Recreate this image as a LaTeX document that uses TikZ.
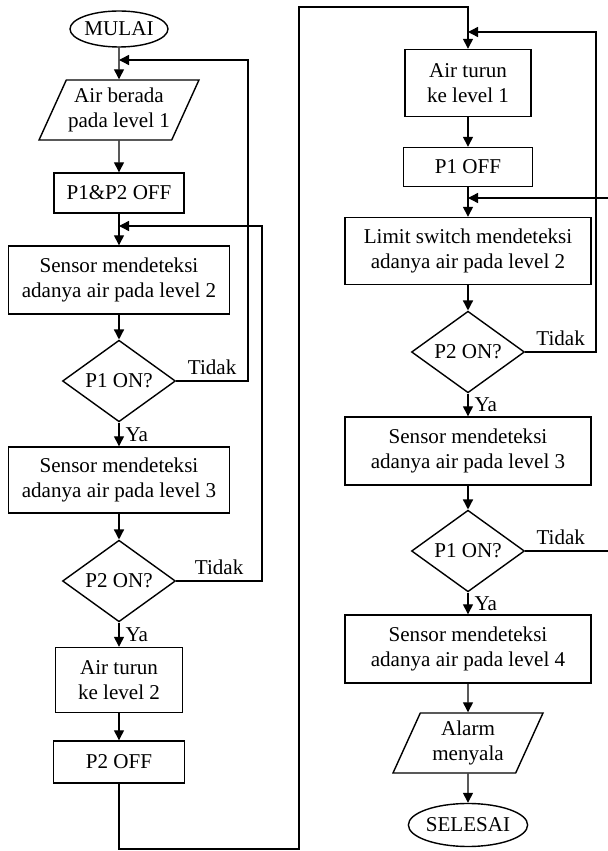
\documentclass[tikz,border=0pt]{standalone}
\usepackage{fontspec}
\setmainfont{Liberation Serif}
\usetikzlibrary{shapes.geometric, arrows.meta}

\begin{document}
\begin{tikzpicture}[
        txt/.style={font=\fontsize{12}{14}\selectfont},
        proc/.style={rectangle, draw, line width=0.8pt, align=center, inner sep=2pt, txt},
        io/.style={trapezium, trapezium left angle=60, trapezium right angle=120, trapezium stretches body, draw, line width=0.8pt, align=center, inner sep=1pt, minimum width=3cm, minimum height=1.2cm, txt},
        term/.style={ellipse, draw, line width=0.8pt, inner sep=0pt, txt},
        dec/.style={diamond, draw, line width=0.8pt, inner sep=0pt, minimum width=2.26cm, minimum height=1.5cm, txt},
        arr/.style={line width=0.8pt, -{Triangle[length=2mm, width=2mm]}}
    ]
        \useasboundingbox (0, 0) rectangle (12.16, 17.02);

        % Left column
        \node[term, minimum width=1.96cm, minimum height=0.72cm] (mulai) at (2.38, 16.44) {MULAI};
        \node[io] (air1) at (2.38, 14.82) {Air berada\\pada level 1};
        \node[proc, minimum width=2.6cm, minimum height=0.8cm] (off12) at (2.38, 13.16) {P1\&P2 OFF};
        \node[proc, minimum width=4.42cm, minimum height=1.36cm] (sens2) at (2.38, 11.42) {Sensor mendeteksi\\adanya air pada level 2};
        \node[dec] (p1on) at (2.38, 9.4) {P1 ON?};
        \node[proc, minimum width=4.42cm, minimum height=1.32cm] (sens3) at (2.38, 7.42) {Sensor mendeteksi\\adanya air pada level 3};
        \node[dec] (p2on) at (2.38, 5.4) {P2 ON?};
        \node[proc, minimum width=2.54cm, minimum height=1.3cm] (turun2) at (2.38, 3.42) {Air turun\\ke level 2};
        \node[proc, minimum width=2.62cm, minimum height=0.84cm] (off2) at (2.38, 1.78) {P2 OFF};

        % Right column
        \node[proc, minimum width=2.52cm, minimum height=1.34cm] (turun1) at (9.36, 15.36) {Air turun\\ke level 1};
        \node[proc, minimum width=2.58cm, minimum height=0.78cm] (off1) at (9.36, 13.68) {P1 OFF};
        \node[proc, minimum width=4.92cm, minimum height=1.34cm] (limit2) at (9.36, 12.0) {Limit switch mendeteksi\\adanya air pada level 2};
        \node[dec] (p2onb) at (9.36, 9.98) {P2 ON?};
        \node[proc, minimum width=4.92cm, minimum height=1.36cm] (sens3b) at (9.36, 8.0) {Sensor mendeteksi\\adanya air pada level 3};
        \node[dec] (p1onb) at (9.36, 6.0) {P1 ON?};
        \node[proc, minimum width=4.92cm, minimum height=1.36cm] (sens4) at (9.36, 4.04) {Sensor mendeteksi\\adanya air pada level 4};
        \node[io] (alarm) at (9.36, 2.16) {Alarm\\menyala};
        \node[term, minimum width=2.24cm, minimum height=0.86cm] (selesai) at (9.36, 0.52) {SELESAI};

        % Junctions and corners
        \coordinate (j1) at (2.38, 15.82);
        \coordinate (r1) at (4.96, 15.82);
        \coordinate (j2) at (2.38, 12.5);
        \coordinate (r2) at (5.24, 12.5);
        \coordinate (j3) at (9.36, 16.38);
        \coordinate (r3) at (11.92, 16.38);
        \coordinate (j4) at (9.36, 13.06);
        \coordinate (r4) at (12.28, 13.06);
        \coordinate (c1) at (5.98, 0.04);
        \coordinate (c2) at (5.98, 16.88);

        % Flow
        \draw[arr] (mulai) -- (air1);
        \draw[arr] (air1) -- (off12);
        \draw[arr] (off12) -- (sens2);
        \draw[arr] (sens2) -- (p1on);
        \draw[arr] (p1on) -- node[right, txt] {Ya} (sens3);
        \draw[arr] (sens3) -- (p2on);
        \draw[arr] (p2on) -- node[right, txt] {Ya} (turun2);
        \draw[arr] (turun2) -- (off2);
        \draw[arr] (off2) |- (c1) -- (c2) -| (turun1);
        \draw[arr] (turun1) -- (off1);
        \draw[arr] (off1) -- (limit2);
        \draw[arr] (limit2) -- (p2onb);
        \draw[arr] (p2onb) -- node[right, txt] {Ya} (sens3b);
        \draw[arr] (sens3b) -- (p1onb);
        \draw[arr] (p1onb) -- node[right, txt] {Ya} (sens4);
        \draw[arr] (sens4) -- (alarm);
        \draw[arr] (alarm) -- (selesai);

        % Loops back
        \draw[arr] (p1on) -| node[pos=0.25, above, txt] {Tidak} (r1) -- (j1);
        \draw[arr] (p2on) -| node[pos=0.25, above, txt] {Tidak} (r2) -- (j2);
        \draw[arr] (p2onb) -| node[pos=0.25, above, txt] {Tidak} (r3) -- (j3);
        \draw[arr] (p1onb) -| node[pos=0.2, above, txt] {Tidak} (r4) -- (j4);
    \end{tikzpicture}
\end{document}
